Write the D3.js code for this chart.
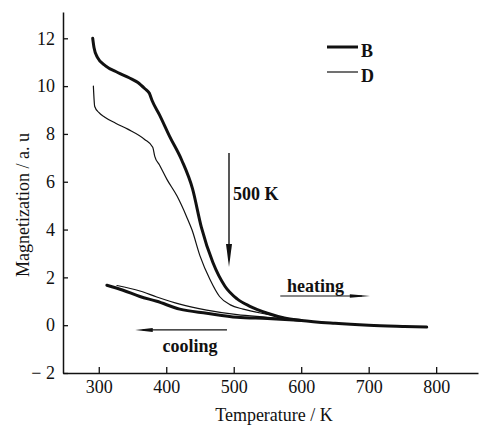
<!DOCTYPE html>
<html>
<head>
<meta charset="utf-8">
<script src="https://cdn.jsdelivr.net/npm/d3@7"></script>
<style>
  body { margin: 0; background: #fff; }
  svg text { font-family: "Liberation Serif", "Times New Roman", serif; fill: #111; }
</style>
</head>
<body>
<svg id="chart" width="482" height="426"></svg>
<script>
// temperature (K) and magnetization (a.u.)
const bHeatT = [291, 293, 298, 310, 328, 345, 358, 368, 375, 379, 390, 405, 423, 439, 452, 469, 487, 505, 524, 550, 575, 600, 650, 700, 750, 786];
const bHeatM = [12.0, 11.6, 11.2, 10.85, 10.57, 10.35, 10.15, 9.9, 9.7, 9.4, 8.8, 7.9, 6.9, 5.7, 4.1, 2.63, 1.63, 1.1, 0.79, 0.5, 0.3, 0.2, 0.08, 0.0, -0.05, -0.08];
const dHeatT = [292, 294, 300, 309, 325, 343, 368, 380, 383, 390, 401, 416, 430, 438, 450, 465, 479, 495, 514, 549, 600, 650, 700, 786];
const dHeatM = [10.0, 9.15, 8.9, 8.7, 8.45, 8.2, 7.77, 7.44, 7.06, 6.7, 6.1, 5.4, 4.55, 4.0, 2.9, 1.9, 1.2, 0.85, 0.67, 0.46, 0.2, 0.08, 0.0, -0.08];
const bCoolT = [312, 336, 361, 386, 420, 460, 505, 550, 600];
const bCoolM = [1.67, 1.46, 1.2, 1.0, 0.67, 0.5, 0.33, 0.28, 0.2];
const dCoolT = [327, 361, 386, 420, 460, 505, 550, 600];
const dCoolM = [1.66, 1.43, 1.18, 0.88, 0.63, 0.44, 0.33, 0.2];

const xTicks = [300, 400, 500, 600, 700, 800];
const yTicks = [-2, 0, 2, 4, 6, 8, 10, 12];
const seriesNames = ['B', 'D'];

const svg = d3.select('#chart');

const x = d3.scaleLinear().domain([247, 862]).range([63, 478]);
const y = d3.scaleLinear().domain([-2, 13.1]).range([373, 12]);

const pts = (ts, ms) => ts.map((t, i) => ({ t: t, m: ms[i] }));

const line = d3.line()
    .x(d => x(d.t))
    .y(d => y(d.m))
    .curve(d3.curveMonotoneX);

// axes, ticks pointing inward
const xAxis = d3.axisBottom(x).tickValues(xTicks).tickSizeInner(-6).tickSizeOuter(0).tickPadding(7);
const yAxis = d3.axisLeft(y).tickValues(yTicks).tickSizeInner(-5).tickSizeOuter(0).tickPadding(8)
    .tickFormat(d => d < 0 ? '\u2212 ' + Math.abs(d) : d);

const gx = svg.append('g').attr('transform', 'translate(0,373)').call(xAxis);
const gy = svg.append('g').attr('transform', 'translate(63,0)').call(yAxis);
[gx, gy].forEach(g => {
    g.select('.domain').attr('stroke', '#111').attr('stroke-width', 1.5);
    g.selectAll('.tick line').attr('stroke', '#111').attr('stroke-width', 1.3);
    g.selectAll('.tick text').attr('font-size', 18).attr('font-family', '"Liberation Serif", serif').attr('fill', '#111');
});

svg.append('text')
    .attr('x', 274).attr('y', 421)
    .attr('text-anchor', 'middle')
    .attr('font-size', 18)
    .text('Temperature / K');

svg.append('text')
    .attr('transform', 'translate(29,205) rotate(-90)')
    .attr('text-anchor', 'middle')
    .attr('font-size', 18)
    .text('Magnetization / a. u');

// curves
const curves = [
    { data: pts(bHeatT, bHeatM), w: 3 },
    { data: pts(bCoolT, bCoolM), w: 3 },
    { data: pts(dHeatT, dHeatM), w: 1.2 },
    { data: pts(dCoolT, dCoolM), w: 1.2 }
];
svg.append('g').selectAll('path')
    .data(curves)
    .enter()
    .append('path')
    .attr('d', d => line(d.data))
    .attr('fill', 'none')
    .attr('stroke', '#111')
    .attr('stroke-width', d => d.w)
    .attr('stroke-linecap', 'round');

// legend
const legend = svg.append('g');
seriesNames.forEach((name, i) => {
    const ly = 47 + i * 25;
    legend.append('line')
        .attr('x1', 327).attr('x2', 358)
        .attr('y1', ly).attr('y2', ly)
        .attr('stroke', '#111')
        .attr('stroke-width', i === 0 ? 3 : 1.2);
    legend.append('text')
        .attr('x', 361).attr('y', ly + 10)
        .attr('font-size', 18)
        .attr('font-weight', 'bold')
        .text(name);
});

// annotations
const ann = svg.append('g');

// 500 K arrow
const ax = x(493);
ann.append('line')
    .attr('x1', ax).attr('x2', ax)
    .attr('y1', y(7.2)).attr('y2', y(2.8))
    .attr('stroke', '#111').attr('stroke-width', 1.4);
ann.append('path')
    .attr('d', `M${ax - 3},${y(3.4)} L${ax + 3},${y(3.4)} L${ax},${y(2.43)} Z`)
    .attr('fill', '#111');
ann.append('text')
    .attr('x', ax + 4).attr('y', 200)
    .attr('font-size', 18)
    .attr('font-weight', 'bold')
    .text('500 K');

// heating arrow (pointing right)
const hy = y(1.22);
ann.append('line')
    .attr('x1', x(569)).attr('x2', x(690))
    .attr('y1', hy).attr('y2', hy)
    .attr('stroke', '#111').attr('stroke-width', 1.2);
ann.append('path')
    .attr('d', `M${x(672)},${hy - 1.8} L${x(702)},${hy} L${x(672)},${hy + 1.8} Z`)
    .attr('fill', '#111');
ann.append('text')
    .attr('x', x(579)).attr('y', hy - 4)
    .attr('font-size', 18)
    .attr('font-weight', 'bold')
    .text('heating');

// cooling arrow (pointing left)
const cy = y(-0.2);
ann.append('line')
    .attr('x1', x(490)).attr('x2', x(365))
    .attr('y1', cy).attr('y2', cy)
    .attr('stroke', '#111').attr('stroke-width', 1.2);
ann.append('path')
    .attr('d', `M${x(380)},${cy - 2} L${x(354)},${cy} L${x(380)},${cy + 2} Z`)
    .attr('fill', '#111');
ann.append('text')
    .attr('x', 190).attr('y', 352)
    .attr('text-anchor', 'middle')
    .attr('font-size', 18)
    .attr('font-weight', 'bold')
    .text('cooling');
</script>
</body>
</html>
